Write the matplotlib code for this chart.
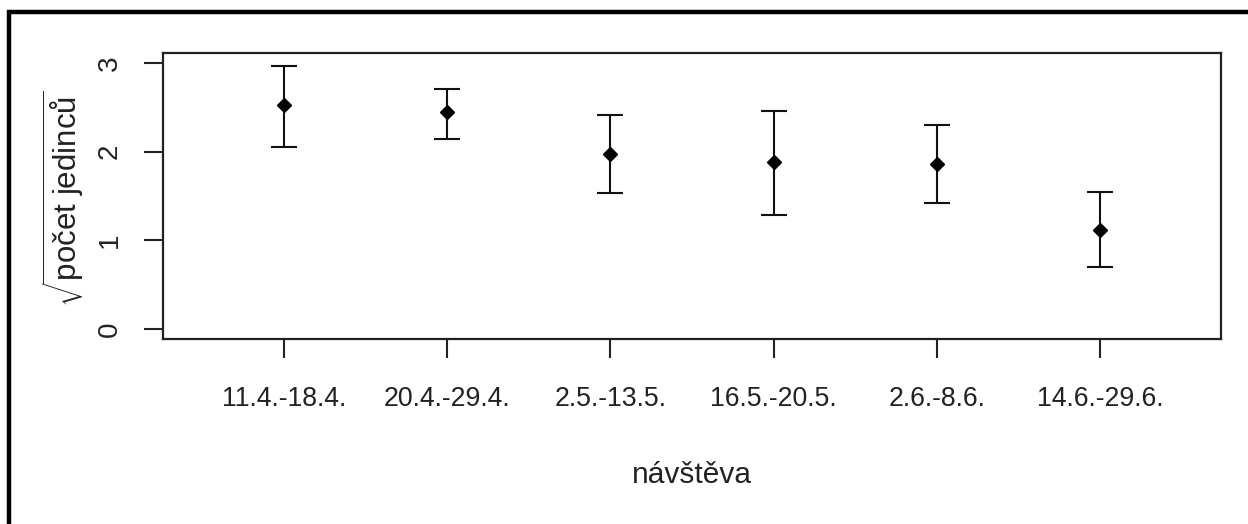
import matplotlib
matplotlib.use("Agg")
import matplotlib.pyplot as plt
from matplotlib.lines import Line2D

categories = ["11.4.-18.4.", "20.4.-29.4.", "2.5.-13.5.", "16.5.-20.5.", "2.6.-8.6.", "14.6.-29.6."]
means = [2.52, 2.45, 1.97, 1.88, 1.86, 1.12]
upper = [2.96, 2.71, 2.41, 2.46, 2.30, 1.55]
lower = [2.05, 2.14, 1.53, 1.29, 1.42, 0.70]
yticks = [0, 1, 2, 3]

plt.rcParams['font.family'] = ['Liberation Sans', 'DejaVu Sans']
plt.rcParams['mathtext.fontset'] = 'custom'
plt.rcParams['mathtext.rm'] = 'Liberation Sans'
plt.rcParams['mathtext.it'] = 'Liberation Sans:italic'
plt.rcParams['mathtext.bf'] = 'Liberation Sans:bold'

fig = plt.figure(figsize=(12.48, 5.24), dpi=100)
ax = fig.add_axes([163/1248, 1-339/524, (1221-163)/1248, (339-53)/524])

x = list(range(1, len(categories) + 1))
yerr = [[m - l for m, l in zip(means, lower)], [u - m for u, m in zip(upper, means)]]
ax.errorbar(x, means, yerr=yerr, fmt='D', color='black', ecolor='#111111',
            markersize=7.5, elinewidth=1.5, capsize=9.7, capthick=1.5)

ax.set_xlim(0.26, 6.74)
ax.set_ylim(-0.11, 3.11)
ax.set_xticks(x)
ax.set_xticklabels(categories, fontsize=19.2, color='#222222')
ax.set_yticks(yticks)
ax.set_yticklabels([str(v) for v in yticks], fontsize=20, color='#222222',
                   rotation=90, va='center')
ax.tick_params(axis='both', length=14, width=1.5, color='#222222')
ax.tick_params(axis='x', pad=20)
ax.tick_params(axis='y', pad=15)
for s in ax.spines.values():
    s.set_linewidth(1.6)
    s.set_color('#222222')

ax.set_xlabel('návštěva', fontsize=21.5, color='#222222', va='center')
ax.xaxis.set_label_coords(0.5, -(475-339)/286)
ax.set_ylabel(r'$\sqrt{\mathrm{počet\ jedinců}}$', fontsize=22.5, color='#222222', va='center')
ax.yaxis.set_label_coords(-(163-64)/1058, 0.49)

fig.add_artist(Line2D([7/1248, 1], [1-12/524, 1-12/524], transform=fig.transFigure,
                      color='black', linewidth=3.2, solid_capstyle='butt'))
fig.add_artist(Line2D([9/1248, 9/1248], [0, 1-10/524], transform=fig.transFigure,
                      color='black', linewidth=3.2, solid_capstyle='butt'))

fig.savefig('out.png', dpi=100)
